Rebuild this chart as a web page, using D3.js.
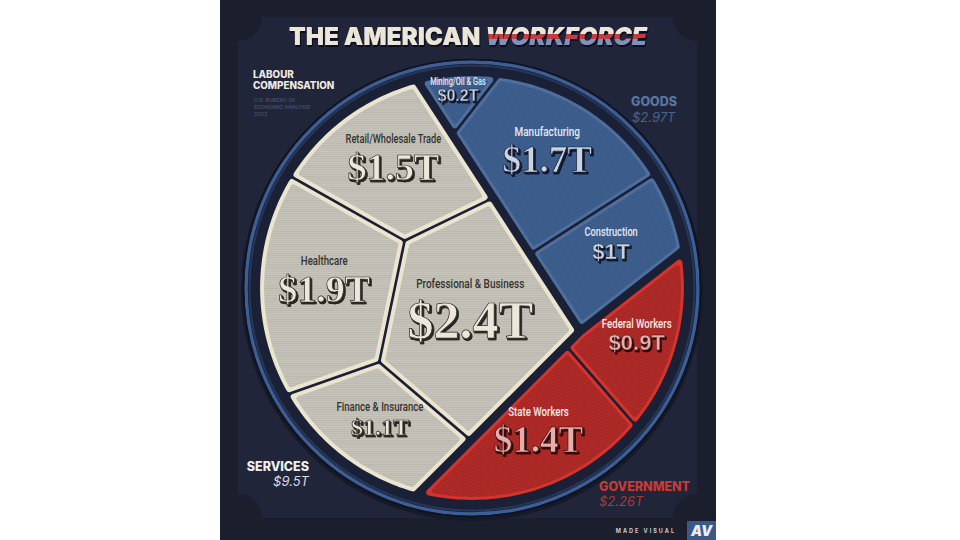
<!DOCTYPE html>
<html><head><meta charset="utf-8">
<script src="https://cdn.jsdelivr.net/npm/d3@7"></script>
<style>
html,body{margin:0;padding:0;background:#ffffff;}
svg{display:block;}
</style></head>
<body>
<svg id="chart" width="960" height="540"></svg>
<script>
// ---------------- DATA ----------------
const categories = ["Retail/Wholesale Trade","Healthcare","Professional & Business","Finance & Insurance",
                    "Mining/Oil & Gas","Manufacturing","Construction","Federal Workers","State Workers"];
const categoryGroup = ["Services","Services","Services","Services","Goods","Goods","Goods","Government","Government"];
const values = [1.5, 1.9, 2.4, 1.1, 0.2, 1.7, 1.0, 0.9, 1.4];           // $ trillions
const valueLabels = ["$1.5T","$1.9T","$2.4T","$1.1T","$0.2T","$1.7T","$1T","$0.9T","$1.4T"];
const groups = ["Services","Goods","Government"];
const groupNames = ["SERVICES","GOODS","GOVERNMENT"];
const groupTotals = [9.5, 2.97, 2.26];
const groupTotalLabels = ["$9.5T","$2.97T","$2.26T"];
const titleParts = ["THE AMERICAN ","WORKFORCE"];
const subtitleLines = ["LABOUR","COMPENSATION"];
const sourceLines = ["U.S. BUREAU OF","ECONOMIC ANALYSIS","2023"];
const creditText = "MADE VISUAL";

// ---------------- LAYOUT (sites of the weighted Voronoi treemap, unit-circle coords) ----------------
const groupSites = [[-0.477,0.056],[0.112,-0.327],[3.565,4.093]];
const categorySites = [[-0.407,-0.551],[-0.710,-0.014],[-0.084,0.117],[-0.495,0.598],
                       [-0.103,-0.902],[0.341,-0.556],[0.598,-0.154],[0.771,0.234],[0.224,0.710]];

// ---------------- STYLES ----------------
const valueSizes = [38,38,52,24,16,37,22,22,37];
const nameSizes  = [12.5,13,13.5,13,10,13.5,12.5,13,13];
const valueSerif = [true,true,true,true,false,true,false,false,true];
const groupStyle = {
  Services:   {border:"#ebe4cf", tex:"url(#texS)", bw:4, name:"#34332f", valFill:"#ebe7da", valShadow:"#2b2a27", nameW:500},
  Goods:      {border:"#4e6e9e", tex:"url(#texG)", bw:3, name:"#e3e9f2", valFill:"#cbd3df", valShadow:"#141c33", nameW:500},
  Government: {border:"#d6332c", tex:"url(#texV)", bw:3, name:"#f6ebe9", valFill:"#e4aeac", valShadow:"#3a0f0f", nameW:500}
};
const nameFont = "Roboto, 'Liberation Sans', sans-serif";
const heavy = "Inter, Lato, 'Open Sans', sans-serif";

const cx = 472, cy = 288, R = 216;
const sx = d3.scaleLinear().domain([-1,1]).range([cx-R, cx+R]);
const sy = d3.scaleLinear().domain([-1,1]).range([cy-R, cy+R]);

// ---------------- GEOMETRY HELPERS ----------------
function clipHalf(poly, a, b, c){ // keep a*x + b*y <= c
  const out = []; const n = poly.length;
  for (let i=0;i<n;i++){
    const P = poly[i], Q = poly[(i+1)%n];
    const fp = a*P[0]+b*P[1]-c, fq = a*Q[0]+b*Q[1]-c;
    if (fp <= 0) out.push(P);
    if ((fp <= 0) !== (fq <= 0)){
      const t = fp/(fp-fq);
      out.push([P[0]+t*(Q[0]-P[0]), P[1]+t*(Q[1]-P[1])]);
    }
  }
  return out;
}
function powerCells(region, sites, w){
  return sites.map((s,i)=>{
    let poly = region;
    sites.forEach((t,j)=>{
      if (j===i || poly.length<3) return;
      const a = 2*(t[0]-s[0]), b = 2*(t[1]-s[1]);
      const c = (t[0]*t[0]+t[1]*t[1]) - (s[0]*s[0]+s[1]*s[1]) - w[j] + w[i];
      poly = clipHalf(poly, a, b, c);
    });
    return poly;
  });
}
function areaOf(p){ return p.length>2 ? Math.abs(d3.polygonArea(p)) : 0; }
function fitCells(region, sites, vals){
  const total = d3.sum(vals), A = areaOf(region);
  const targets = vals.map(v=>v/total*A);
  const w = sites.map(()=>0);
  for (let it=0; it<3000; it++){
    const cells = powerCells(region, sites, w);
    cells.forEach((c,i)=>{ w[i] += 0.5*(targets[i]-areaOf(c)); });
  }
  return powerCells(region, sites, w);
}
function inset(poly, d){
  if (poly.length<3) return poly;
  const ctr = d3.polygonCentroid(poly);
  let out = poly;
  const n = poly.length;
  for (let i=0;i<n;i++){
    const P = poly[i], Q = poly[(i+1)%n];
    const ex = Q[0]-P[0], ey = Q[1]-P[1], L = Math.hypot(ex,ey);
    if (L < 1e-9) continue;
    let nx = ey/L, ny = -ex/L;
    if (nx*(ctr[0]-P[0]) + ny*(ctr[1]-P[1]) < 0){ nx=-nx; ny=-ny; }
    out = clipHalf(out, -nx, -ny, -(nx*P[0]+ny*P[1]+d));
    if (out.length<3) break;
  }
  return out;
}
const lineGen = d3.line().curve(d3.curveLinearClosed);

// ---------------- COMPUTE TREEMAP ----------------
const circlePoly = d3.range(360).map(k=>{
  const a = k/360*2*Math.PI; return [cx+R*Math.cos(a), cy+R*Math.sin(a)];
});
const gSites = groupSites.map(p=>[sx(p[0]), sy(p[1])]);
const groupVals = groups.map(g=>d3.sum(values.filter((v,i)=>categoryGroup[i]===g)));
const groupCells = fitCells(circlePoly, gSites, groupVals).map(c=>inset(c, 2.8));
const cellPolys = new Array(categories.length);
groups.forEach((g,gi)=>{
  const idx = d3.range(categories.length).filter(i=>categoryGroup[i]===g);
  const sites = idx.map(i=>[sx(categorySites[i][0]), sy(categorySites[i][1])]);
  const cells = fitCells(groupCells[gi], sites, idx.map(i=>values[i]));
  cells.forEach((c,k)=>{ cellPolys[idx[k]] = inset(c, 1.3); });
});

// ---------------- DRAW ----------------
const svg = d3.select("#chart");
const defs = svg.append("defs");
function stripes(id, base, line, size, angle, op){
  const p = defs.append("pattern").attr("id",id).attr("patternUnits","userSpaceOnUse")
    .attr("width",size).attr("height",size).attr("patternTransform",`rotate(${angle})`);
  p.append("rect").attr("width",size).attr("height",size).attr("fill",base);
  p.append("rect").attr("width",size).attr("height",1).attr("fill",line).attr("opacity",op);
}
stripes("texS","#c9c7bd","#a9a79e",2.2,0,0.55);
stripes("texG","#3e5f8e","#34537f",3,-20,0.6);
stripes("texV","#ae2b27","#99221f",3,-20,0.6);
const tg = defs.append("linearGradient").attr("id","flag").attr("gradientUnits","userSpaceOnUse")
  .attr("x1",0).attr("x2",0).attr("y1",27).attr("y2",45);
[["0%","#ece6da"],["38%","#ece6da"],["38%","#c63a3c"],["64%","#c63a3c"],["64%","#8093b7"],["100%","#8093b7"]]
  .forEach(s=>tg.append("stop").attr("offset",s[0]).attr("stop-color",s[1]));
function shadowFilter(id, color, step, n){
  const f = defs.append("filter").attr("id",id).attr("x","-10%").attr("y","-10%").attr("width","130%").attr("height","140%");
  f.append("feFlood").attr("flood-color",color);
  f.append("feComposite").attr("in2","SourceAlpha").attr("operator","in").attr("result","s");
  d3.range(1,n+1).forEach(k=>f.append("feOffset").attr("in","s").attr("dx",step[0]*k).attr("dy",step[1]*k).attr("result","o"+k));
  const m = f.append("feMerge");
  d3.range(n,0,-1).forEach(k=>m.append("feMergeNode").attr("in","o"+k));
  m.append("feMergeNode").attr("in","SourceGraphic");
}
groups.forEach(g=>shadowFilter("sh"+g, groupStyle[g].valShadow, [0.55,0.75], 3));
shadowFilter("shTitle", "#0e1020", [0.5,0.8], 2);

// panel
svg.append("rect").attr("x",220).attr("y",0).attr("width",496).attr("height",540).attr("fill","#1b1e2c");
svg.append("path").attr("fill","#20253a")
  .attr("d","M262,17 L673,17 A24,24 0 0 0 697,41 L697,494 A24,24 0 0 0 673,518 L262,518 A24,24 0 0 0 238,494 L238,41 A24,24 0 0 0 262,17 Z");

// disc and ring
svg.append("circle").attr("cx",cx).attr("cy",cy+2).attr("r",231).attr("fill","#151928");
svg.append("circle").attr("cx",cx).attr("cy",cy).attr("r",226).attr("fill","#1a2035")
  .attr("stroke","#3c5e95").attr("stroke-width",3.5);
svg.append("circle").attr("cx",cx).attr("cy",cy).attr("r",222.5).attr("fill","none")
  .attr("stroke","#26375a").attr("stroke-width",2);
svg.append("circle").attr("cx",cx).attr("cy",cy).attr("r",228.5).attr("fill","none")
  .attr("stroke","#0f1321").attr("stroke-width",1.5);

// cells
const cellG = svg.append("g");
categories.forEach((name,i)=>{
  const st = groupStyle[categoryGroup[i]];
  const poly = cellPolys[i];
  const r1 = 3, r2 = 2.5;
  cellG.append("path").attr("d", lineGen(inset(poly, r1)))
    .attr("fill", st.border).attr("stroke", st.border).attr("stroke-width", 2*r1).attr("stroke-linejoin","round");
  cellG.append("path").attr("d", lineGen(inset(poly, st.bw + r2)))
    .attr("fill", st.tex).attr("stroke", st.tex).attr("stroke-width", 2*r2).attr("stroke-linejoin","round");
});

// labels
const labG = svg.append("g");
categories.forEach((name,i)=>{
  const g = categoryGroup[i], st = groupStyle[g];
  const c = d3.polygonCentroid(cellPolys[i]);
  const vs = valueSizes[i], ns = nameSizes[i];
  const vb = c[1] + 0.38*vs;
  const nb = vb - 0.9*vs - 0.22*ns;
  labG.append("g").attr("transform",`translate(${c[0]},${nb}) scale(0.74,1)`)
    .append("text").attr("text-anchor","middle")
    .attr("font-family",nameFont).attr("font-weight",st.nameW).attr("font-size",ns).attr("fill",st.name).text(name);
  const vf = valueSerif[i] ? "'Liberation Serif','DejaVu Serif',serif" : "'Liberation Sans',Arial,sans-serif";
  labG.append("text").attr("x",c[0]).attr("y",vb).attr("text-anchor","middle")
    .attr("font-family",vf).attr("font-weight","bold").attr("font-size",vs)
    .attr("fill",st.valFill).attr("stroke",st.valShadow).attr("stroke-width",valueSerif[i]?0.7:0.35)
    .attr("filter",`url(#sh${g})`).text(valueLabels[i]);
});

// title
const title = svg.append("text").attr("x",468).attr("y",45).attr("text-anchor","middle")
  .attr("font-family",heavy).attr("font-weight",900).attr("font-size",25)
  .attr("textLength",358).attr("lengthAdjust","spacingAndGlyphs").attr("filter","url(#shTitle)");
title.append("tspan").attr("fill","#ece6d8").text(titleParts[0]);
title.append("tspan").attr("fill","url(#flag)").attr("font-style","italic").text(titleParts[1]);

// left header
subtitleLines.forEach((t,k)=>svg.append("text").attr("x",253).attr("y",77.5+k*11)
  .attr("font-family",heavy).attr("font-weight",800).attr("font-size",9.8).attr("fill","#eeeae2").text(t));
sourceLines.forEach((t,k)=>svg.append("text").attr("x",254).attr("y",101.5+k*7)
  .attr("font-family",heavy).attr("font-weight",700).attr("font-size",5.2).attr("fill","#404a68").text(t));

// group labels
const gl = [
  {x:309, y:471, anchor:"end", col:"#f1efe9", vcol:"#d9d9e0", vx:309, vy:486},
  {x:631, y:106, anchor:"start", col:"#5a77a4", vcol:"#4a638c", vx:632, vy:122},
  {x:599, y:491, anchor:"start", col:"#c93a33", vcol:"#a63a35", vx:599, vy:506}
];
groups.forEach((g,k)=>{
  const o = gl[k];
  svg.append("text").attr("x",o.x).attr("y",o.y).attr("text-anchor",o.anchor)
    .attr("font-family",heavy).attr("font-weight",800).attr("font-size",12.5).attr("fill",o.col).text(groupNames[k]);
  svg.append("text").attr("x",o.vx).attr("y",o.vy).attr("text-anchor",o.anchor)
    .attr("font-family",heavy).attr("font-style","italic").attr("font-size",13).attr("fill",o.vcol).text(groupTotalLabels[k]);
});

// credit
svg.append("text").attr("x",676).attr("y",533).attr("text-anchor","end")
  .attr("font-family",heavy).attr("font-weight",700).attr("font-size",5.5).attr("letter-spacing",2)
  .attr("fill","#c9ccd6").text(creditText);
svg.append("rect").attr("x",687).attr("y",521).attr("width",29).attr("height",19).attr("fill","#3b5889");
svg.append("text").attr("x",701.5).attr("y",536).attr("text-anchor","middle")
  .attr("font-family",heavy).attr("font-weight",900).attr("font-style","italic").attr("font-size",14)
  .attr("fill","#e9edf5").text("AV");
</script>
</body></html>
